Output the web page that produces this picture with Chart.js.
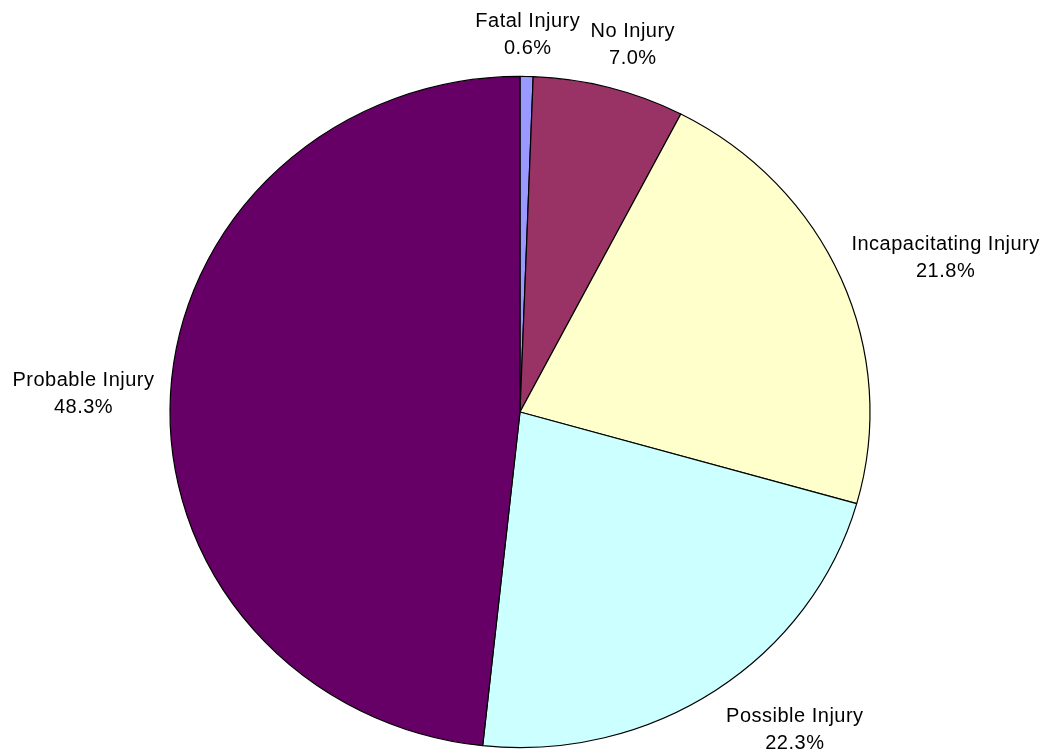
<!DOCTYPE html>
<html>
<head>
<meta charset="utf-8">
<title>Injury Severity</title>
<script src="https://cdn.jsdelivr.net/npm/chart.js@4.4.1/dist/chart.umd.min.js"></script>
<style>
    html, body { margin: 0; padding: 0; background: #fff; }
    #chart-container { width: 1050px; height: 751px; }
</style>
</head>
<body>
<div id="chart-container"><canvas id="injury-severity"></canvas></div>
<script>
'use strict';

// injury severity shares, clockwise from 12 o'clock
const severityLabels = ['Fatal Injury', 'No Injury', 'Incapacitating Injury', 'Possible Injury', 'Probable Injury'];
const severityPercents = [0.6, 7.0, 21.8, 22.3, 48.3];
const severityColors = ['#9999ff', '#993366', '#ffffcc', '#ccffff', '#660066'];

// small hand tweaks to where each label box lands (x, y)
const labelNudge = [[0, -4.5], [10, -6], [1, -5], [27, 5], [-6, 2]];

const squash = 335.6 / 350; // pie is drawn a little flatter than round

window.ovalPie = {
    id: 'ovalPie',
    beforeDatasetsDraw: function (chart) {
        let arc = chart.getDatasetMeta(0).data[0];
        let ctx = chart.ctx;
        ctx.save();
        ctx.translate(arc.x, arc.y);
        ctx.scale(1, squash);
        ctx.translate(-arc.x, -arc.y);
    },
    afterDatasetsDraw: function (chart) {
        chart.ctx.restore();
    },
};

window.sliceLabels = {
    id: 'sliceLabels',
    afterDraw: function (chart) {
        let ctx = chart.ctx;
        let meta = chart.getDatasetMeta(0);
        let gap = 10;
        let lineHeight = 27;
        ctx.save();
        ctx.font = '20px "Liberation Sans", Arial, sans-serif';
        ctx.letterSpacing = '0.5px';
        ctx.fillStyle = '#000';
        ctx.textAlign = 'center';
        ctx.textBaseline = 'middle';
        meta.data.forEach(function (arc, i) {
            let mid = (arc.startAngle + arc.endAngle) / 2;
            let dx = Math.cos(mid);
            let dy = Math.sin(mid);
            let rx = arc.outerRadius + gap;
            let ry = arc.outerRadius * squash + gap;
            let line1 = severityLabels[i];
            let line2 = severityPercents[i].toFixed(1) + '%';
            let hw = Math.max(ctx.measureText(line1).width, ctx.measureText(line2).width) / 2;
            let hh = lineHeight;
            let m = Math.max(Math.abs(dx), Math.abs(dy));
            let x = arc.x + rx * dx + hw * dx / m + labelNudge[i][0];
            let y = arc.y + ry * dy + hh * dy / m + labelNudge[i][1];
            ctx.fillText(line1, x, y - lineHeight / 2);
            ctx.fillText(line2, x, y + lineHeight / 2);
        });
        ctx.restore();
    },
};

let ctx = document.getElementById('injury-severity').getContext('2d');

window.severityPie = new Chart(ctx, {
    type: 'pie',
    data: {
        labels: severityLabels,
        datasets: [{
            data: severityPercents,
            backgroundColor: severityColors,
            borderColor: '#000',
            borderWidth: 1.2,
        }],
    },
    options: {
        responsive: true,
        maintainAspectRatio: false,
        animation: false,
        radius: 350,
        layout: {
            padding: { left: 0, right: 10, top: 73, bottom: 0 },
        },
        plugins: {
            legend: { display: false },
            tooltip: { enabled: false },
        },
    },
    plugins: [ovalPie, sliceLabels],
});
</script>
</body>
</html>
